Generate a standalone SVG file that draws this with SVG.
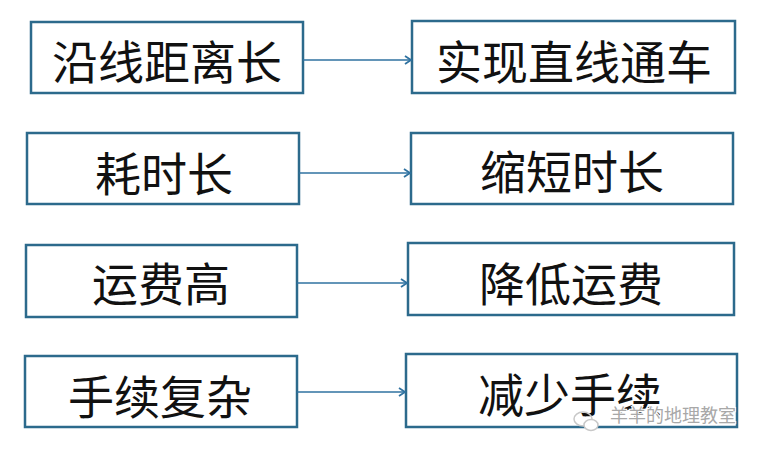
<svg xmlns="http://www.w3.org/2000/svg" width="765" height="453" viewBox="0 0 765 453">
<style>
.box{fill:#ffffff;stroke:#2c6a8c;stroke-width:2.5}
.lbl{font-family:"Noto Sans CJK SC","Noto Sans CJK JP",sans-serif;font-size:46px;fill:#111111;text-anchor:middle}
.conn{stroke:#2f72a0;stroke-width:1.6;fill:none}
.wm{font-family:"Noto Sans CJK SC",sans-serif;font-size:18px;fill:#a8a8a8;stroke:#ffffff;stroke-width:2;paint-order:stroke}
</style>
<defs>
<marker id="arr" markerWidth="10" markerHeight="10" refX="8" refY="5" orient="auto" markerUnits="userSpaceOnUse">
<path d="M2,1 L8,5 L2,9" fill="none" stroke="#2f72a0" stroke-width="1.8"/>
</marker>
</defs>
<rect width="765" height="453" fill="#ffffff"/>
<g id="n1"><rect class="box" x="31" y="22" width="272" height="71"/><text class="lbl" x="167" y="79">沿线距离长</text></g>
<g id="n2"><rect class="box" x="412" y="21" width="323" height="72"/><text class="lbl" x="574" y="79">实现直线通车</text></g>
<g id="n3"><rect class="box" x="27" y="133" width="272" height="71"/><text class="lbl" x="164" y="191">耗时长</text></g>
<g id="n4"><rect class="box" x="411" y="133" width="322" height="71"/><text class="lbl" x="572" y="189">缩短时长</text></g>
<g id="n5"><rect class="box" x="26" y="245" width="271" height="72"/><text class="lbl" x="161" y="301">运费高</text></g>
<g id="n6"><rect class="box" x="408" y="243" width="326" height="72"/><text class="lbl" x="571" y="301">降低运费</text></g>
<g id="n7"><rect class="box" x="25" y="356" width="272" height="71"/><text class="lbl" x="160" y="414">手续复杂</text></g>
<g id="n8"><rect class="box" x="406" y="354" width="331" height="73"/><text class="lbl" x="570" y="412">减少手续</text></g>
<g id="connectors">
<line class="conn" x1="303" y1="60" x2="411" y2="60" marker-end="url(#arr)"/>
<line class="conn" x1="299" y1="173" x2="410" y2="173" marker-end="url(#arr)"/>
<line class="conn" x1="297" y1="283" x2="407" y2="283" marker-end="url(#arr)"/>
<line class="conn" x1="297" y1="392" x2="405" y2="392" marker-end="url(#arr)"/>
</g>
<g id="watermark">
<ellipse cx="583" cy="419" rx="9" ry="7" fill="none" stroke="#c8c8c8" stroke-width="1.5"/>
<ellipse cx="591" cy="425" rx="7" ry="5.5" fill="#ffffff" stroke="#c8c8c8" stroke-width="1.5"/>
<text class="wm" x="610" y="422">羊羊的地理教室</text>
</g>
</svg>
